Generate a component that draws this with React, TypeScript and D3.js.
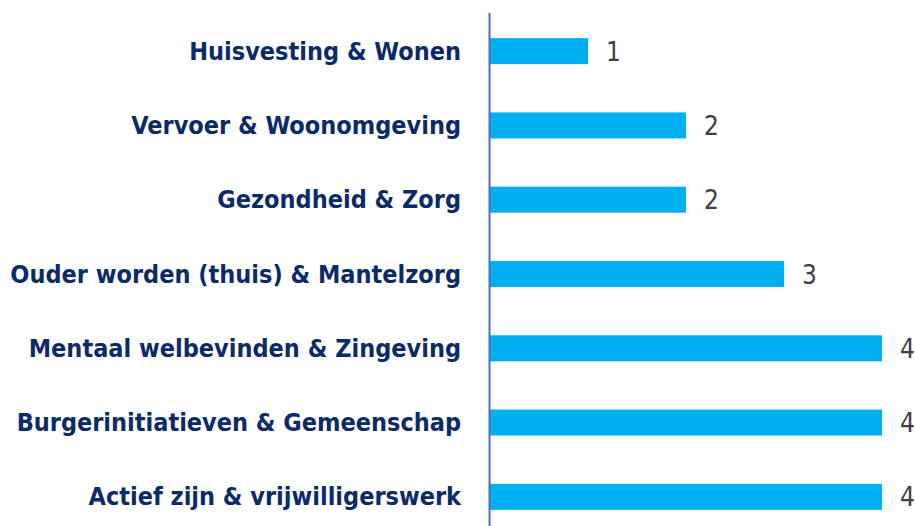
import React from "react";
import * as d3 from "d3";

const categories = [
  "Huisvesting & Wonen",
  "Vervoer & Woonomgeving",
  "Gezondheid & Zorg",
  "Ouder worden (thuis) & Mantelzorg",
  "Mentaal welbevinden & Zingeving",
  "Burgerinitiatieven & Gemeenschap",
  "Actief zijn & vrijwilligerswerk",
];
const values = [1, 2, 2, 3, 4, 4, 4];

const W = 915;
const H = 526;

export default function App() {
  const x = d3.scaleLinear().domain([0, 4]).range([490, 882]);
  const y = d3
    .scaleBand<string>()
    .domain(categories)
    .range([14, 534])
    .paddingInner(0.65)
    .paddingOuter(0.325);
  const font = "'DejaVu Sans Condensed', 'Roboto Condensed', 'Liberation Sans Narrow', sans-serif";
  return (
    <svg
      width={W}
      height={H}
      style={{ position: "absolute", left: 0, top: 0, background: "#fff" }}
    >
      {categories.map((c, i) => {
        const yy = y(c)!;
        const bw = y.bandwidth();
        return (
          <g key={c}>
            <rect x={x(0)} y={yy} width={x(values[i]) - x(0)} height={bw} fill="#00B0F0" />
            <text
              x={461}
              y={yy + bw / 2}
              dy="0.34em"
              textAnchor="end"
              fontFamily={font}
              fontWeight="bold"
              fontSize={25}
              fill="#0B2A6B"
            >
              {c}
            </text>
            <text
              x={x(values[i]) + 18}
              y={yy + bw / 2}
              dy="0.37em"
              fontFamily={font}
              fontSize={26}
              fontWeight={500}
              fill="#404040"
            >
              {values[i]}
            </text>
          </g>
        );
      })}
      <line x1={489.5} x2={489.5} y1={13} y2={H} stroke="#4472C4" strokeWidth={2} />
    </svg>
  );
}
